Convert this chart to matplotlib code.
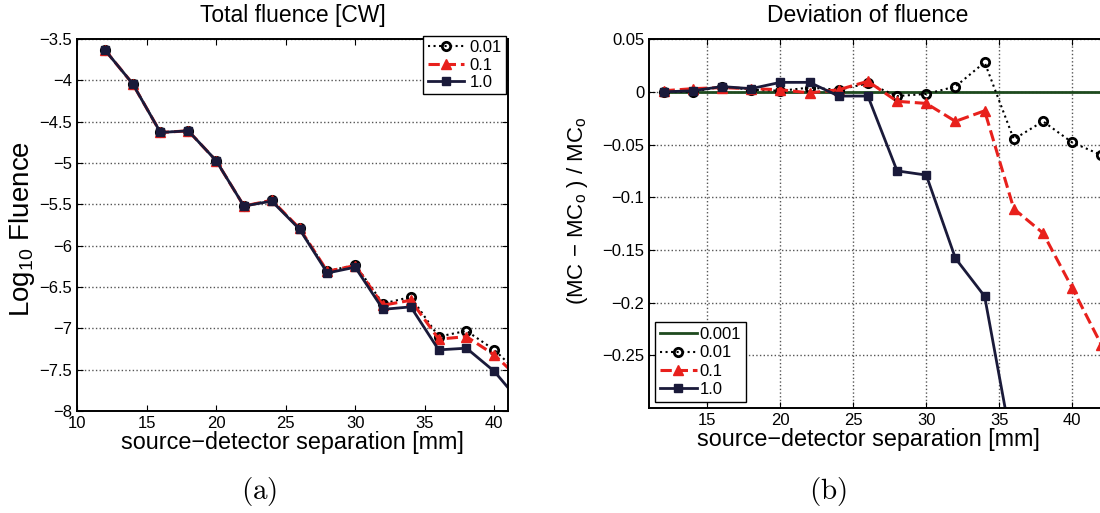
import numpy as np
import matplotlib
matplotlib.use("Agg")
import matplotlib.pyplot as plt

plt.rcParams['font.family'] = ['Liberation Sans', 'DejaVu Sans']
plt.rcParams['mathtext.fontset'] = 'custom'
plt.rcParams['mathtext.rm'] = 'Liberation Sans'
plt.rcParams['mathtext.it'] = 'Liberation Sans'

# source-detector separations [mm]
sep = [12, 14, 16, 18, 20, 22, 24, 26, 28, 30, 32, 34, 36, 38, 40, 42]

# (a) log10 total fluence
logf_001 = [-3.63, -4.04, -4.63, -4.61, -4.97, -5.52, -5.45, -5.79, -6.31, -6.23,
            -6.70, -6.62, -7.10, -7.03, -7.26, -7.58]
logf_01 = [-3.63, -4.04, -4.63, -4.61, -4.97, -5.52, -5.45, -5.79, -6.31, -6.24,
           -6.72, -6.66, -7.13, -7.10, -7.32, -7.64]
logf_1 = [-3.63, -4.04, -4.63, -4.61, -4.97, -5.52, -5.46, -5.80, -6.33, -6.26,
          -6.77, -6.74, -7.26, -7.24, -7.52, -7.92]

# (b) relative deviation
dev_0001 = [0.0] * len(sep)
dev_001 = [0.0, 0.0, 0.005, 0.002, 0.001, 0.004, 0.002, 0.008, -0.004, -0.002,
           0.005, 0.028, -0.045, -0.028, -0.048, -0.06]
dev_01 = [0.001, 0.003, 0.004, 0.003, 0.002, -0.001, 0.002, 0.010, -0.009, -0.011,
          -0.028, -0.018, -0.111, -0.134, -0.186, -0.24]
dev_1 = [0.0, 0.001, 0.005, 0.003, 0.009, 0.009, -0.004, -0.004, -0.075, -0.079,
         -0.158, -0.194, -0.345, -0.40, -0.45, -0.50]

red = '#e8201c'
navy = '#1a1a3a'
green = '#1e4a1e'

fig = plt.figure(figsize=(11, 5.13), dpi=100)

# ---- (a) ----
ax1 = fig.add_axes([0.07, 0.1988, 0.392, 0.725])
ax1.plot(sep, logf_001, ':', color='black', marker='o', ms=6, mfc='none', mew=2, lw=1.5, label='0.01')
ax1.plot(sep, logf_01, '--', color=red, marker='^', ms=7, lw=2.2, label='0.1')
ax1.plot(sep, logf_1, '-', color=navy, marker='s', ms=6, lw=2, label='1.0')
ax1.set_xlim(10, 41)
ax1.set_ylim(-8, -3.5)
ax1.set_xticks([10, 15, 20, 25, 30, 35, 40])
ax1.set_yticks([-8, -7.5, -7, -6.5, -6, -5.5, -5, -4.5, -4, -3.5])
ax1.set_yticklabels(['\u22128', '\u22127.5', '\u22127', '\u22126.5', '\u22126', '\u22125.5',
                     '\u22125', '\u22124.5', '\u22124', '\u22123.5'])
ax1.yaxis.grid(True, linestyle=':', color='#555555', lw=1)
ax1.set_title('Total fluence [CW]', fontsize=16.5, pad=12)
ax1.set_xlabel('source\u2212detector separation [mm]', fontsize=16.8, labelpad=0)
ax1.set_ylabel('Log$_{10}$ Fluence', fontsize=20)
ax1.yaxis.set_label_coords(-0.092, 0.49)
ax1.legend(loc='upper right', fontsize=12, fancybox=False, edgecolor='black',
           handlelength=2.2, handletextpad=0.3, borderpad=0.25, labelspacing=0.15,
           borderaxespad=0.15, framealpha=1, bbox_to_anchor=(1.0, 1.015))

# ---- (b) ----
ax2 = fig.add_axes([0.59, 0.2047, 0.4245, 0.719])
ax2.plot(sep, dev_0001, '-', color=green, lw=2, label='0.001')
ax2.plot(sep, dev_001, ':', color='black', marker='o', ms=6, mfc='none', mew=2, lw=1.5, label='0.01')
ax2.plot(sep, dev_01, '--', color=red, marker='^', ms=7, lw=2.2, label='0.1')
ax2.plot(sep, dev_1, '-', color=navy, marker='s', ms=6, lw=2, label='1.0')
ax2.set_xlim(11, 43)
ax2.set_ylim(-0.3, 0.05)
ax2.set_xticks([15, 20, 25, 30, 35, 40])
ax2.set_yticks([-0.25, -0.2, -0.15, -0.1, -0.05, 0, 0.05])
ax2.set_yticklabels(['\u22120.25', '\u22120.2', '\u22120.15', '\u22120.1', '\u22120.05', '0', '0.05'])
ax2.grid(True, linestyle=':', color='#555555', lw=1)
ax2.set_title('Deviation of fluence', fontsize=16.5, pad=12, x=0.469)
ax2.set_xlabel('source\u2212detector separation [mm]', fontsize=16.8, labelpad=0, x=0.469)
ax2.set_ylabel('(MC \u2212 MC$_\\mathrm{o}$ ) / MC$_\\mathrm{o}$', fontsize=16)
ax2.yaxis.set_label_coords(-0.126, 0.535)
ax2.legend(loc='lower left', fontsize=12, fancybox=False, edgecolor='black',
           handlelength=2.2, handletextpad=0.2, borderpad=0.3, labelspacing=0.2,
           borderaxespad=0.35, framealpha=1)

for ax in (ax1, ax2):
    ax.tick_params(direction='in', labelsize=12, top=True, right=True, length=4)
    for s in ax.spines.values():
        s.set_linewidth(1.4)

# panel captions
fig.text(0.236, 0.041, r'$\mathrm{(a)}$', ha='center', va='center', fontsize=21, math_fontfamily='cm')
fig.text(0.753, 0.041, r'$\mathrm{(b)}$', ha='center', va='center', fontsize=21, math_fontfamily='cm')

fig.savefig('out.png', dpi=100)
